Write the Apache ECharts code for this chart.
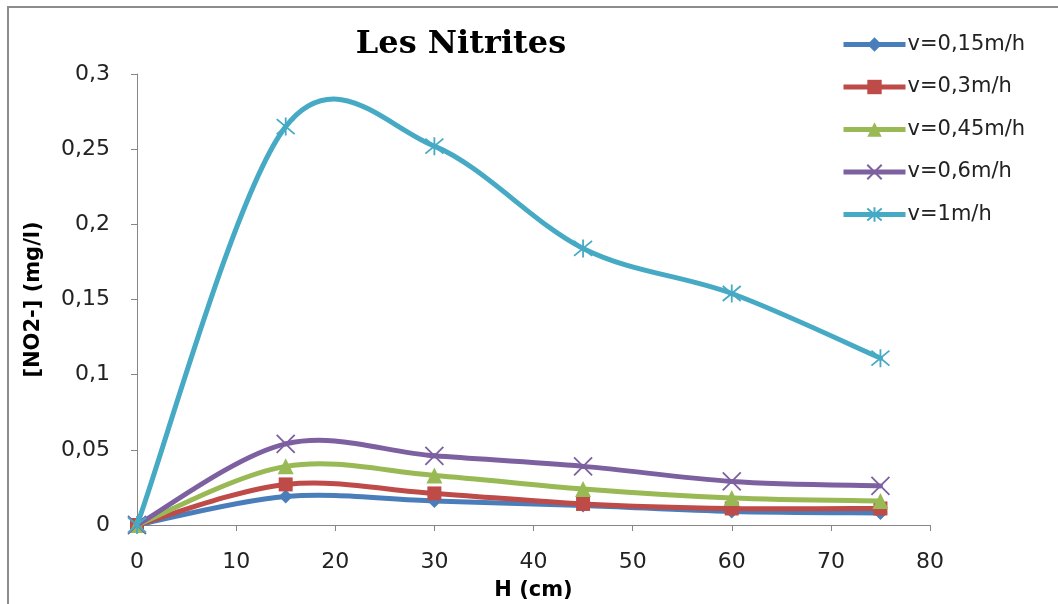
<!DOCTYPE html>
<html>
<head>
<meta charset="utf-8">
<script src="https://cdn.jsdelivr.net/npm/echarts@6/dist/echarts.min.js"></script>
<style>
html,body{margin:0;padding:0;background:#fff;}
#chart{width:1058px;height:604px;}
</style>
</head>
<body>
<div id="chart"></div>
<script>
const hValues = [0, 15, 30, 45, 60, 75];
const seriesNames = ['v=0,15m/h', 'v=0,3m/h', 'v=0,45m/h', 'v=0,6m/h', 'v=1m/h'];
const v015 = [0, 0.019, 0.016, 0.013, 0.009, 0.008];
const v03  = [0, 0.027, 0.021, 0.014, 0.011, 0.011];
const v045 = [0, 0.039, 0.033, 0.024, 0.018, 0.016];
const v06  = [0, 0.054, 0.046, 0.039, 0.029, 0.026];
const v1   = [0, 0.265, 0.252, 0.184, 0.154, 0.111];
const xTicks = [0, 10, 20, 30, 40, 50, 60, 70, 80];
const yTicks = [0, 0.05, 0.1, 0.15, 0.2, 0.25, 0.3];

const colors = ['#4a7ebb', '#be4b48', '#98b954', '#7d60a0', '#46aac5'];
const symbols = [
  'diamond', 'rect', 'triangle',
  'path://M0,0L10,10M10,0L0,10',
  'path://M0,0L10,10M10,0L0,10M5,-1L5,11'
];
const symbolSizes = [14, 14, 16, 18, 18];
const allData = [v015, v03, v045, v06, v1];

const fmt = v => String(+v.toFixed(2)).replace('.', ',');

// Smoothed curve (Catmull-Rom -> cubic Bezier) drawn via the chart's own coordinate system
function curveSeries(vals, i) {
  return {
    type: 'custom',
    name: seriesNames[i] + ' ',
    coordinateSystem: 'cartesian2d',
    data: [[hValues[0], vals[0]]],
    z: 2 * i + 2,
    silent: true,
    renderItem: function (params, api) {
      const P = hValues.map((h, k) => api.coord([h, vals[k]]));
      const n = P.length;
      const children = [];
      for (let k = 0; k < n - 1; k++) {
        const p0 = P[Math.max(k - 1, 0)];
        const p1 = P[k];
        const p2 = P[k + 1];
        const p3 = P[Math.min(k + 2, n - 1)];
        children.push({
          type: 'bezierCurve',
          shape: {
            x1: p1[0], y1: p1[1],
            cpx1: p1[0] + (p2[0] - p0[0]) / 6, cpy1: p1[1] + (p2[1] - p0[1]) / 6,
            cpx2: p2[0] - (p3[0] - p1[0]) / 6, cpy2: p2[1] - (p3[1] - p1[1]) / 6,
            x2: p2[0], y2: p2[1]
          },
          style: {stroke: colors[i], lineWidth: 5, fill: null, lineCap: 'round'}
        });
      }
      return {type: 'group', children: children};
    }
  };
}

const markerSeries = allData.map((vals, i) => {
  const isPath = i >= 3;
  return {
    name: seriesNames[i],
    type: 'line',
    data: hValues.map((h, k) => [h, vals[k]]),
    symbol: symbols[i],
    symbolSize: symbolSizes[i],
    showAllSymbol: true,
    lineStyle: {color: colors[i], width: 5, opacity: 0},
    itemStyle: isPath
      ? {color: colors[i], borderColor: colors[i], borderWidth: 1.8}
      : {color: colors[i], borderWidth: 0},
    z: 2 * i + 3
  };
});

const series = [];
allData.forEach((vals, i) => { series.push(markerSeries[i]); series.push(curveSeries(vals, i)); });

const chart = echarts.init(document.getElementById('chart'), null, {renderer: 'canvas'});
chart.setOption({
  animation: false,
  backgroundColor: '#fff',
  title: {
    text: 'Les Nitrites',
    left: 456, top: 24,
    textAlign: 'center',
    textStyle: {fontFamily: 'DejaVu Serif', fontWeight: 'bold', fontSize: 32, color: '#000'}
  },
  legend: {
    orient: 'vertical',
    left: 836, top: 29,
    itemWidth: 62, itemHeight: 18,
    itemGap: 21.5,
    data: seriesNames,
    lineStyle: {width: 5, opacity: 1},
    textStyle: {fontFamily: 'DejaVu Sans', fontSize: 21, color: '#222', padding: [0, 0, 0, -3]}
  },
  grid: {left: 137, right: 128, top: 74, bottom: 79, containLabel: false, outerBoundsMode: 'none'},
  xAxis: {
    type: 'value',
    min: xTicks[0], max: xTicks[xTicks.length - 1], interval: 10,
    name: 'H (cm)',
    nameLocation: 'middle', nameGap: 55,
    nameTextStyle: {fontFamily: 'DejaVu Sans', fontWeight: 'bold', fontSize: 21, color: '#000'},
    axisLine: {lineStyle: {color: '#868686', width: 1}},
    axisTick: {show: true, length: 6, lineStyle: {color: '#868686'}},
    axisLabel: {fontFamily: 'DejaVu Sans', fontSize: 22, color: '#222', margin: 26},
    splitLine: {show: false}
  },
  yAxis: {
    type: 'value',
    min: yTicks[0], max: yTicks[yTicks.length - 1], interval: 0.05,
    name: '[NO2-] (mg/l)',
    nameLocation: 'middle', nameGap: 93, nameRotate: 90,
    nameTextStyle: {fontFamily: 'DejaVu Sans', fontWeight: 'bold', fontSize: 21, color: '#000'},
    axisLine: {show: true, lineStyle: {color: '#868686', width: 1}},
    axisTick: {show: true, length: 6, lineStyle: {color: '#868686'}},
    axisLabel: {fontFamily: 'DejaVu Sans', fontSize: 22, color: '#222', margin: 27, formatter: fmt},
    splitLine: {show: false}
  },
  graphic: [{
    type: 'rect',
    shape: {x: 8, y: 7, width: 1100, height: 700},
    style: {fill: 'none', stroke: '#8c8c8c', lineWidth: 2},
    silent: true
  }],
  series: series
});
</script>
</body>
</html>
